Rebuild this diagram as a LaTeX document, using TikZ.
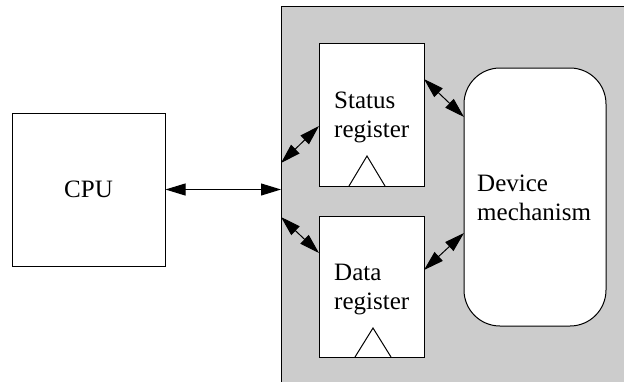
\documentclass[tikz,border=0pt]{standalone}
\usepackage{fontspec}
\setmainfont{Liberation Serif}
\usetikzlibrary{arrows.meta}
\definecolor{panel}{HTML}{CCCCCC}
\begin{document}
\begin{tikzpicture}[x=1pt,y=-1pt,
  box/.style={draw,line width=1pt,fill=white,inner sep=0pt},
  lbl/.style={inner sep=0pt,align=left,font=\fontsize{25}{29}\selectfont},
  biarrow/.style={line width=1pt,{Triangle[length=20pt,width=12pt]}-{Triangle[length=20pt,width=12pt]}},
  clk/.style={line width=1pt,line join=miter}]
\useasboundingbox (0,0) rectangle (624,381);
% panel
\fill[panel] (281,6) rectangle (630,390);
\draw[line width=1pt] (281,390) -- (281,6) -- (630,6);
% boxes
\node[box,minimum width=153pt,minimum height=153pt] (cpu) at (88.5,189.5) {};
\node[lbl,anchor=center] (cputxt) at (cpu.center) {CPU};
\node[box,minimum width=105pt,minimum height=143pt] (sreg) at (371.5,114.5) {};
\node[box,minimum width=105pt,minimum height=141pt] (dreg) at (371.5,286.5) {};
\node[box,rounded corners=36pt,minimum width=142pt,minimum height=258pt] (dev) at (535,197) {};
% labels (base anchor = baseline of last line)
\node[lbl,anchor=base west] (stxt) at (334,137) {Status\\register};
\node[lbl,anchor=base west] (dtxt) at (334,309) {Data\\register};
\node[lbl,anchor=base west] (devtxt) at (477,220) {Device\\mechanism};
% clock triangles
\draw[clk] (349,186) -- (367,156) -- (385,186);
\draw[clk] (355,357) -- (373,328) -- (391,357);
% connector ends
\coordinate (pin) at (281,189.5);
\coordinate (p1) at (281,163);
\coordinate (s1) at (319,126);
\coordinate (p2) at (281,217);
\coordinate (d1) at (319,253);
\coordinate (s2) at (424,79);
\coordinate (m1) at (464,117);
\coordinate (m2) at (464,233);
\coordinate (d2) at (424,270);
\draw[biarrow] (cpu.east) -- (pin);
\draw[biarrow] (p1) -- (s1);
\draw[biarrow] (p2) -- (d1);
\draw[biarrow] (s2) -- (m1);
\draw[biarrow] (m2) -- (d2);
\end{tikzpicture}
\end{document}
